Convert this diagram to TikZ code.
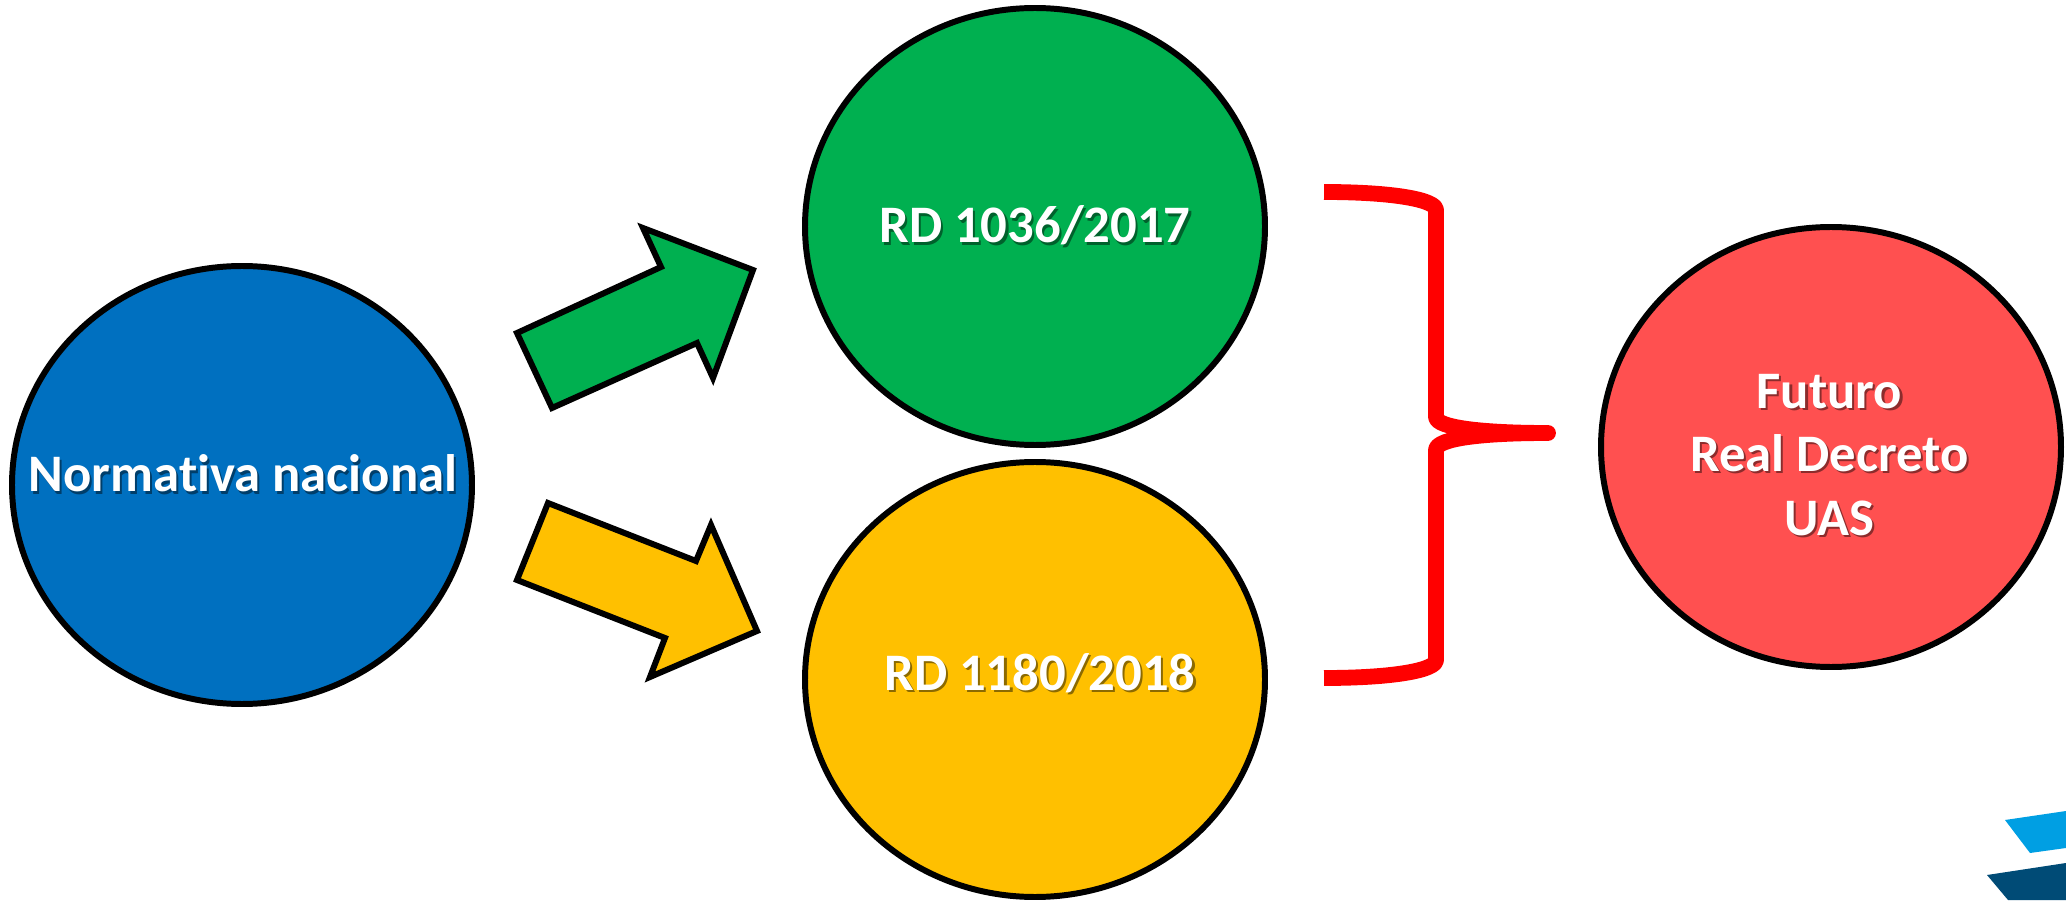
\documentclass[tikz,border=0pt]{standalone}
\usepackage{fontspec}
\setmainfont[Ligatures=NoCommon]{Carlito}
\usetikzlibrary{shapes.geometric}

\definecolor{azulnorma}{HTML}{0070C0}
\definecolor{verdenorma}{HTML}{00B050}
\definecolor{amarillonorma}{HTML}{FFC000}
\definecolor{rojonorma}{HTML}{FF5050}
\definecolor{logoclaro}{HTML}{009FE3}
\definecolor{logooscuro}{HTML}{004B76}

\newcommand{\sombra}[2]{\leavevmode\rlap{\hspace{0.6pt}\raisebox{-0.6pt}{\textcolor{#1!55!black}{#2}}}#2}

\tikzset{
	globo/.style={draw=black, ellipse, line width=1.7pt, inner sep=0pt},
	rotulo/.style={text=white, align=center, inner sep=0pt, font=\fontsize{15}{18}\selectfont\bfseries},
	flecha/.style={draw=black, line width=1.7pt, miter limit=10},
}

\begin{document}
\begin{tikzpicture}
				\useasboundingbox (0,0) rectangle (20.66,9);
				
				\fill[logoclaro] (20.05,0.80) -- (20.30,0.47) -- (20.66,0.52) -- (20.66,0.89) -- cycle;
				\fill[logooscuro] (19.87,0.25) -- (20.08,0) -- (20.66,0) -- (20.66,0.37) -- cycle;
				
				\node[globo, fill=azulnorma, minimum width=4.60cm, minimum height=4.38cm] (normativa) at (2.42,4.15) {};
				\node[globo, fill=verdenorma, minimum width=4.60cm, minimum height=4.37cm] (rdprimero) at (10.35,6.735) {};
				\node[globo, fill=amarillonorma, minimum width=4.60cm, minimum height=4.35cm] (rdsegundo) at (10.35,2.205) {};
				\node[globo, fill=rojonorma, minimum width=4.60cm, minimum height=4.40cm] (futuro) at (18.31,4.53) {};
				
				\node[rotulo, anchor=base] (normativatxt) at (2.43,4.08) {\sombra{azulnorma}{Normativa nacional}};
				\node[rotulo, anchor=base] (rdprimerotxt) at (10.35,6.57) {\sombra{verdenorma}{RD 1036/2017}};
				\node[rotulo, anchor=base] (rdsegundotxt) at (10.40,2.10) {\sombra{amarillonorma}{RD 1180/2018}};
				\node[rotulo] (futurotxt) at (18.295,4.44) {\sombra{rojonorma}{Futuro}\\\sombra{rojonorma}{Real Decreto}\\\sombra{rojonorma}{UAS}};
				
				\draw[flecha, fill=verdenorma] (5.17,5.67) -- (6.61,6.33) -- (6.43,6.72) -- (7.53,6.30) -- (7.13,5.22) -- (6.97,5.57) -- (5.52,4.92) -- cycle;
				\draw[flecha, fill=amarillonorma] (5.48,3.97) -- (6.96,3.39) -- (7.11,3.75) -- (7.57,2.69) -- (6.50,2.23) -- (6.65,2.62) -- (5.17,3.20) -- cycle;
				
				\draw[red, line width=4.5pt, line join=round] (13.24,7.08) .. controls (13.95,7.08) and (14.36,7.00) .. (14.36,6.90) -- (14.36,4.83) .. controls (14.36,4.72) and (14.85,4.67) .. (15.48,4.67) .. controls (14.85,4.67) and (14.36,4.62) .. (14.36,4.50) -- (14.36,2.40) .. controls (14.36,2.30) and (13.95,2.22) .. (13.24,2.22);
\end{tikzpicture}
\end{document}
